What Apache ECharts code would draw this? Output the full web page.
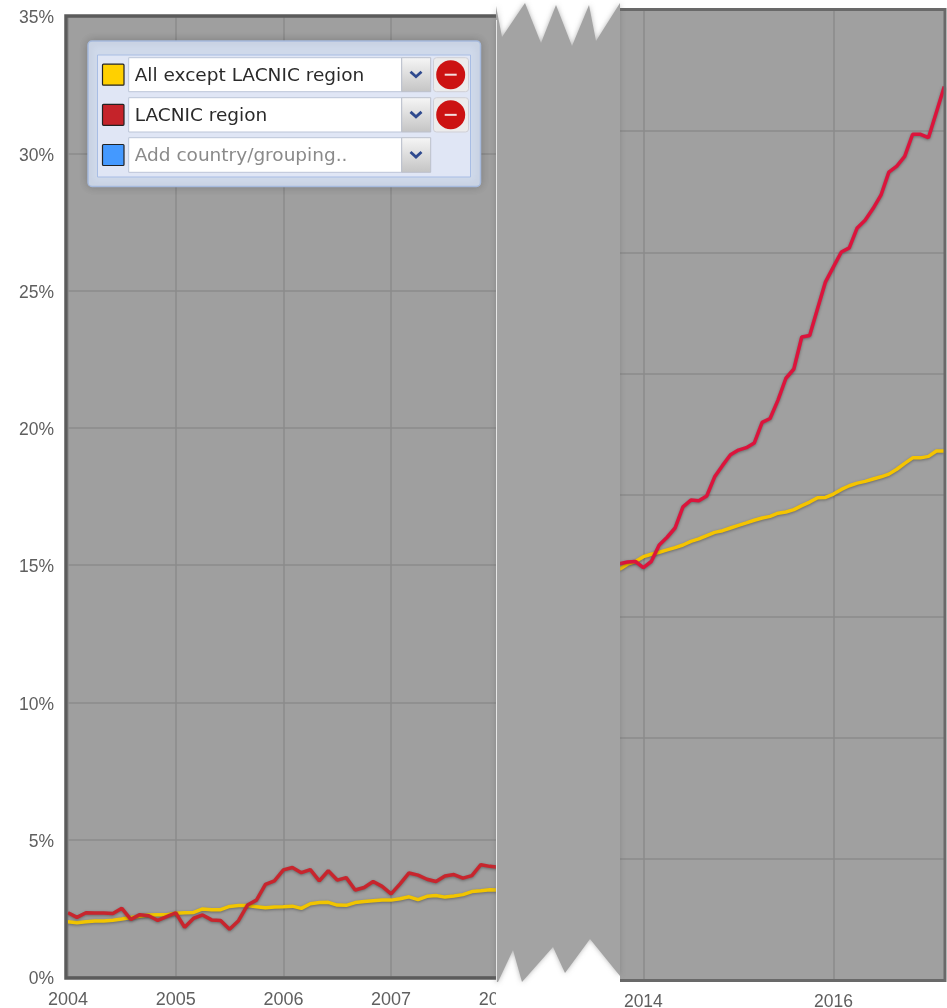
<!DOCTYPE html>
<html>
<head>
<meta charset="utf-8">
<style>html,body{margin:0;padding:0;background:#fff}#c{width:947px;height:1008px}</style>
<script src="https://cdn.jsdelivr.net/npm/echarts@6/dist/echarts.min.js"></script>
</head>
<body>
<div id="c"></div>
<script>
const leftMonths = ['2004-01','2004-02','2004-03','2004-04','2004-05','2004-06','2004-07','2004-08','2004-09','2004-10','2004-11','2004-12',
'2005-01','2005-02','2005-03','2005-04','2005-05','2005-06','2005-07','2005-08','2005-09','2005-10','2005-11','2005-12',
'2006-01','2006-02','2006-03','2006-04','2006-05','2006-06','2006-07','2006-08','2006-09','2006-10','2006-11','2006-12',
'2007-01','2007-02','2007-03','2007-04','2007-05','2007-06','2007-07','2007-08','2007-09','2007-10','2007-11','2007-12','2008-01'];
const leftOthers = [2.01,1.98,2.01,2.04,2.04,2.07,2.11,2.17,2.21,2.26,2.27,2.27,2.32,2.34,2.35,2.48,2.45,2.45,2.57,2.60,2.60,2.56,2.52,2.55,2.56,2.58,2.50,2.67,2.71,2.72,2.62,2.61,2.71,2.75,2.78,2.80,2.80,2.85,2.92,2.82,2.94,2.97,2.91,2.95,3.00,3.11,3.14,3.18,3.17];
const leftLacnic = [2.34,2.17,2.34,2.33,2.33,2.31,2.50,2.10,2.27,2.23,2.06,2.20,2.34,1.81,2.14,2.26,2.08,2.06,1.74,2.05,2.62,2.80,3.37,3.50,3.90,3.99,3.80,3.91,3.50,3.87,3.53,3.62,3.17,3.26,3.48,3.30,3.03,3.39,3.79,3.71,3.56,3.48,3.68,3.73,3.60,3.69,4.09,4.03,4.00];
const rightMonths = ['2013-10','2013-11','2013-12','2014-01','2014-02','2014-03','2014-04','2014-05','2014-06','2014-07','2014-08','2014-09','2014-10','2014-11','2014-12',
'2015-01','2015-02','2015-03','2015-04','2015-05','2015-06','2015-07','2015-08','2015-09','2015-10','2015-11','2015-12',
'2016-01','2016-02','2016-03','2016-04','2016-05','2016-06','2016-07','2016-08','2016-09','2016-10','2016-11','2016-12','2017-01','2017-02','2017-03'];
const rightOthers = [16.94,17.15,17.26,17.46,17.56,17.64,17.74,17.83,17.94,18.09,18.19,18.33,18.46,18.53,18.64,18.75,18.85,18.96,19.05,19.12,19.25,19.30,19.40,19.56,19.71,19.89,19.90,20.04,20.23,20.38,20.49,20.56,20.66,20.75,20.86,21.06,21.30,21.53,21.53,21.59,21.81,21.81];
const rightLacnic = [17.17,17.24,17.26,17.01,17.26,17.94,18.26,18.64,19.51,19.79,19.76,19.96,20.75,21.22,21.66,21.85,21.95,22.14,22.99,23.15,23.91,24.81,25.19,26.51,26.57,27.68,28.78,29.40,30.01,30.18,31.00,31.32,31.80,32.35,33.30,33.55,33.95,34.86,34.86,34.72,35.77,36.83];
const leftTicks = ['2004-01','2005-01','2006-01','2007-01','2008-01'];
const rightTicks = ['2014-01','2016-01'];
const seriesNames = ['All except LACNIC region','LACNIC region'];
const placeholder = 'Add country/grouping..';

const chart = echarts.init(document.getElementById('c'), null, {renderer:'canvas', width:947, height:1008});
const AX = '#5f5f5f', GRID = '#8b8b8b', F = '"Liberation Sans", Arial, sans-serif';
const shadow = {shadowBlur:3, shadowColor:'rgba(0,0,0,0.35)', shadowOffsetY:1};

const xAxis = (idx, cats, ticks, fs, margin) => ({
  type:'category', gridIndex:idx, data:cats, boundaryGap:false,
  axisLine:{show:false}, axisTick:{show:false},
  axisLabel:{color:AX, fontFamily:F, fontSize:fs, margin, hideOverlap:false,
    showMinLabel:true, showMaxLabel:true,
    interval:(i,v)=>ticks.includes(v), formatter:v=>v.slice(0,4)},
  splitLine:{show:true, interval:(i,v)=>ticks.includes(v), lineStyle:{color:GRID, width:1.5}}
});
const line = (name,x,y,data,color,w) => ({
  name, type:'line', xAxisIndex:x, yAxisIndex:y, data, symbol:'none', smooth:false, clip:true,
  lineStyle:Object.assign({color, width:w}, shadow), z:3
});

const rowYs = [[57.7,91.7],[97.7,132],[137.7,172.3]];
const swatches = ['#ffd000','#c5232a','#4499ff'];
const g = [];
// plot frames
g.push({type:'rect', z:50, silent:true, shape:{x:66,y:16,width:500,height:962}, style:{fill:'none',stroke:'#5b5b5b',lineWidth:3.5}});
g.push({type:'rect', z:50, silent:true, shape:{x:560,y:9.5,width:385,height:971}, style:{fill:'none',stroke:'#696969',lineWidth:3}});
// torn middle panel
g.push({type:'rect', z:60, silent:true, shape:{x:496,y:0,width:124,height:1008}, style:{fill:'#fff'}});
g.push({type:'polygon', z:61, silent:true, shape:{points:[[496,6],[502,37],[525,3],[541,43],[556,5],[572,46],[589,5],[596,41],[620,3],[620,976],[590,939],[565,973],[553,947],[522,982],[513,950],[498,982],[496,982]]},
  style:{fill:'#a3a3a3', shadowBlur:5, shadowColor:'rgba(110,110,110,0.5)'}});
g.push({type:'line', z:62, silent:true, shape:{x1:496.5,y1:20,x2:496.5,y2:982}, style:{stroke:'#e6e6e6',lineWidth:1}});
// control panel
g.push({type:'rect', z:70, silent:true, shape:{x:88,y:41,width:392.5,height:145.5,r:4}, style:{fill:'#cfd9ea',stroke:'#a6badd',lineWidth:1.5,shadowBlur:8,shadowColor:'rgba(0,0,0,0.2)'}});
g.push({type:'rect', z:71, silent:true, shape:{x:97.5,y:55,width:373,height:122}, style:{fill:'#e0e6f5',stroke:'#a8bde4',lineWidth:1}});
const btnGrad = new echarts.graphic.LinearGradient(0,0,0,1,[{offset:0,color:'#f6f6f6'},{offset:1,color:'#c4c4c4'}]);
rowYs.forEach((r,i)=>{
  const [t,b] = r, h = b-t, cy = (t+b)/2;
  g.push({type:'rect', z:72, silent:true, shape:{x:102.5,y:cy-10.5,width:21.5,height:21,r:1}, style:{fill:swatches[i],stroke:'#222',lineWidth:1.2}});
  g.push({type:'rect', z:72, silent:true, shape:{x:128.7,y:t,width:273,height:h}, style:{fill:'#fff',stroke:'#bcc5d8',lineWidth:1}});
  g.push({type:'rect', z:72, silent:true, shape:{x:401.7,y:t,width:29,height:h}, style:{fill:btnGrad,stroke:'#bcc0cc',lineWidth:1}});
  g.push({type:'polyline', z:73, silent:true, shape:{points:[[410.5,cy-3],[416,cy+2],[421.5,cy-3]]}, style:{fill:'none',stroke:'#2f4a8f',lineWidth:2.8}});
  g.push({type:'text', z:73, silent:true, x:134.7, y:cy+1.5, style:{
    text: i<2 ? seriesNames[i] : placeholder,
    fill: i<2 ? '#2a2a2a' : '#8a8a8a', font:'18.5px "DejaVu Sans", sans-serif', verticalAlign:'middle', align:'left'}});
  if(i<2){
    g.push({type:'rect', z:72, silent:true, shape:{x:433.5,y:t,width:35,height:h,r:3}, style:{fill:'#ececec',stroke:'#cfcfd6',lineWidth:1}});
    g.push({type:'circle', z:73, silent:true, shape:{cx:450.7,cy:cy,r:14.5}, style:{fill:'#cc1212'}});
    g.push({type:'rect', z:74, silent:true, shape:{x:444.7,y:cy-1,width:12,height:2}, style:{fill:'#f3dede'}});
  }
});

chart.setOption({
  animation:false,
  backgroundColor:'#ffffff',
  grid:[
    {left:68, top:16, width:430.8, height:961, show:true, backgroundColor:'#9f9f9f', borderWidth:0, containLabel:false, outerBoundsMode:'none'},
    {left:619.6, top:9.5, width:324.7, height:971, show:true, backgroundColor:'#a0a0a0', borderWidth:0, containLabel:false, outerBoundsMode:'none'}
  ],
  xAxis:[xAxis(0,leftMonths,leftTicks,18,14), xAxis(1,rightMonths,rightTicks,17.5,13)],
  yAxis:[
    {type:'value', gridIndex:0, min:0, max:35, interval:5, axisLine:{show:false}, axisTick:{show:false},
      axisLabel:{color:AX, fontFamily:F, fontSize:17.5, margin:14, verticalAlign:'top', lineHeight:5, formatter:'{value}%'},
      splitLine:{show:true, lineStyle:{color:GRID, width:1.5}}},
    {type:'value', gridIndex:1, min:0, max:40, interval:5, axisLine:{show:false}, axisTick:{show:false},
      axisLabel:{show:false}, splitLine:{show:true, lineStyle:{color:GRID, width:1.5}}}
  ],
  series:[
    line(seriesNames[0],0,0,leftOthers,'#f2c500',3.5),
    line(seriesNames[1],0,0,leftLacnic,'#c8252d',3.5),
    line(seriesNames[0],1,1,rightOthers,'#f5c400',3.5),
    line(seriesNames[1],1,1,rightLacnic,'#dc143c',3.5)
  ],
  graphic:{elements:g}
});
</script>
</body>
</html>
